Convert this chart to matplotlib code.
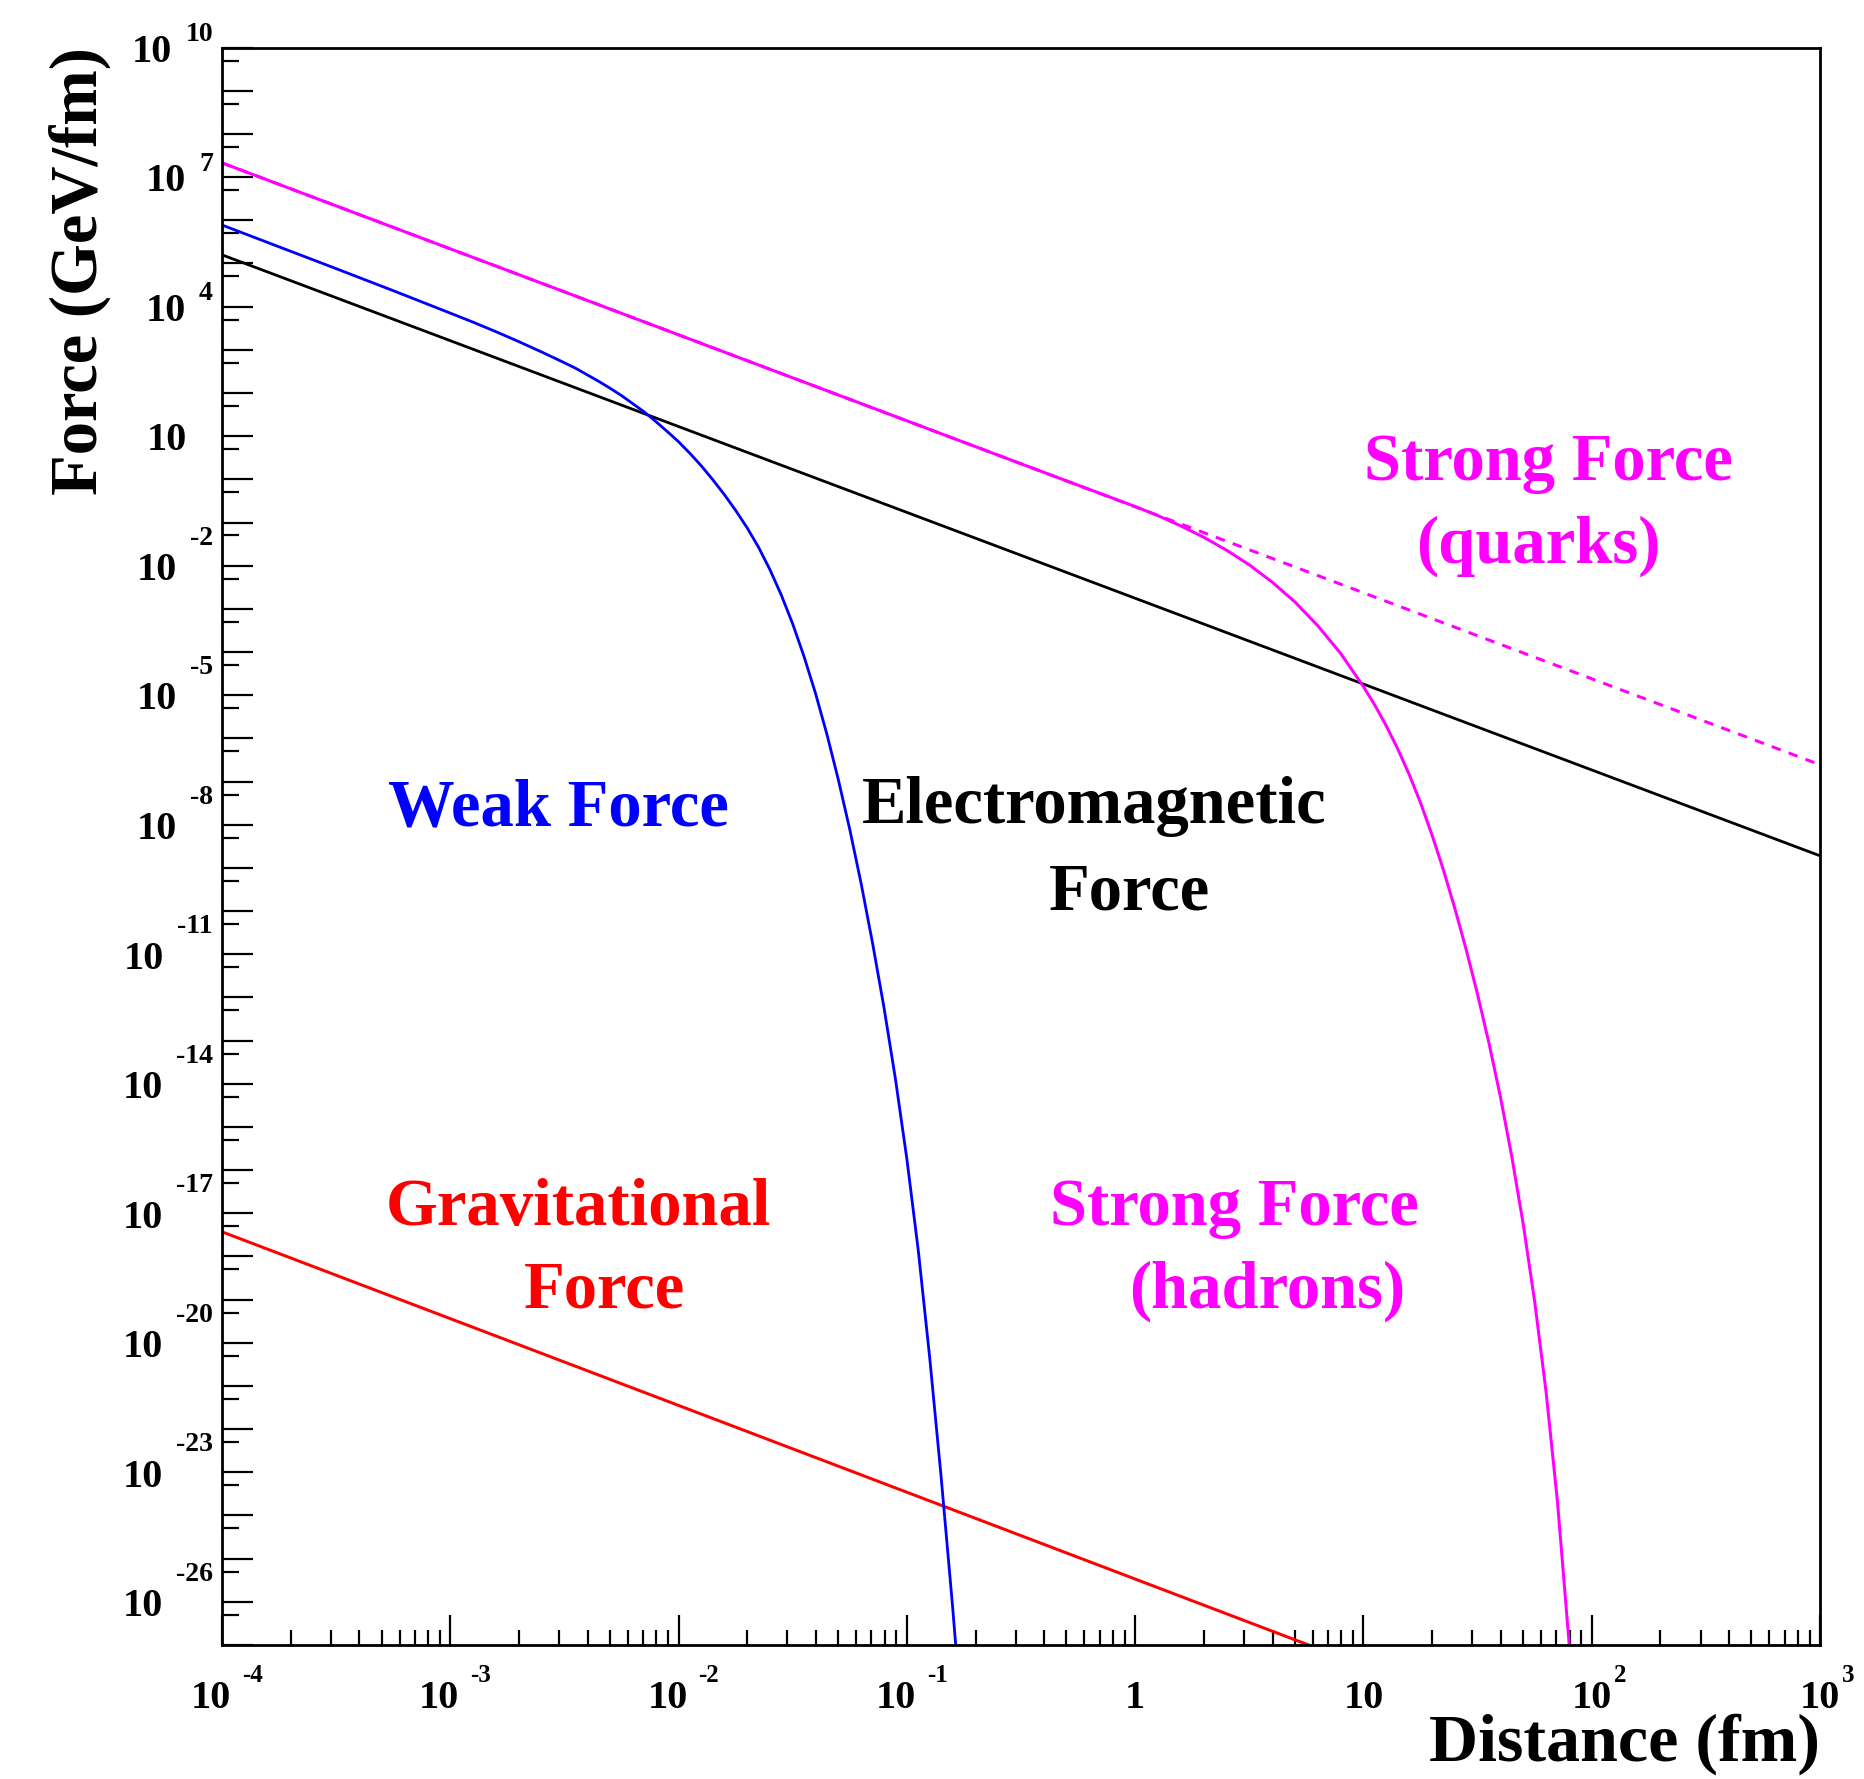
import numpy as np
import matplotlib
matplotlib.use("Agg")
import matplotlib.pyplot as plt
from matplotlib.ticker import FixedLocator, NullFormatter

plt.rcParams['font.family'] = ['Liberation Serif', 'DejaVu Serif']
plt.rcParams['font.weight'] = 'bold'

# values, as log10(distance / fm) and log10(force / GeV/fm)
em_log_r = [-4.0, 3.0]
em_log_f = [5.2, -8.72]

grav_log_r = [-4.0, 0.76]
grav_log_f = [-17.43, -27.0]

quark_log_r = [-4.0, 3.0]
quark_log_f = [7.33, -6.61]

weak_log_r = [-4.0, -3.5, -3.25, -3.0, -2.9, -2.8, -2.7, -2.6, -2.5, -2.45, -2.4,
              -2.35, -2.3, -2.25, -2.2, -2.15, -2.1, -2.05, -2.0, -1.95, -1.9,
              -1.85, -1.8, -1.75, -1.7, -1.65, -1.6, -1.55, -1.5, -1.45, -1.4,
              -1.35, -1.3, -1.25, -1.2, -1.15, -1.1, -1.05, -1.0, -0.95, -0.9,
              -0.85, -0.8, -0.786]
weak_log_f = [5.89, 4.88, 4.37, 3.85, 3.64, 3.42, 3.19, 2.95, 2.70, 2.57, 2.42,
              2.27, 2.11, 1.94, 1.75, 1.56, 1.34, 1.11, 0.87, 0.60, 0.31,
              -0.01, -0.35, -0.72, -1.12, -1.57, -2.09, -2.68, -3.35, -4.11, -4.96,
              -5.91, -6.96, -8.11, -9.37, -10.75, -12.24, -13.89, -15.74, -17.86, -20.34,
              -23.10, -26.09, -27.0]

hadron_log_r = [-4.0, -0.5, 0.0, 0.1, 0.2, 0.3, 0.4, 0.5, 0.6, 0.7, 0.8, 0.9, 1.0,
                1.05, 1.1, 1.15, 1.2, 1.25, 1.3, 1.35, 1.4, 1.45, 1.5, 1.55, 1.6,
                1.65, 1.7, 1.75, 1.8, 1.85, 1.9, 1.901]
hadron_log_f = [7.33, 0.36, -0.63, -0.84, -1.08, -1.34, -1.64, -1.98, -2.38, -2.84,
                -3.39, -4.03, -4.80, -5.23, -5.71, -6.24, -6.83, -7.49, -8.23, -9.04,
                -9.93, -10.89, -11.93, -13.06, -14.30, -15.69, -17.25, -19.04, -21.13,
                -23.68, -26.90, -27.0]

# tick labels: (mantissa, exponent)
x_tick_exp = [-4, -3, -2, -1, 0, 1, 2, 3]
x_tick_text = [("10", "-4"), ("10", "-3"), ("10", "-2"), ("10", "-1"),
               ("1", ""), ("10", ""), ("10", "2"), ("10", "3")]
y_tick_exp = [10, 7, 4, 1, -2, -5, -8, -11, -14, -17, -20, -23, -26]
y_tick_text = [("10", "10"), ("10", "7"), ("10", "4"), ("10", ""), ("10", "-2"),
               ("10", "-5"), ("10", "-8"), ("10", "-11"), ("10", "-14"), ("10", "-17"),
               ("10", "-20"), ("10", "-23"), ("10", "-26")]

W, H, DPI = 1865, 1779, 100
L, R, T, B = 222, 1820, 47.6, 1645


def pt(p):
    # pixels -> points
    return p * 72.0 / DPI


def fxy(x, y):
    # pixel position -> figure fraction
    return x / W, 1 - y / H


fig = plt.figure(figsize=(W / DPI, H / DPI), dpi=DPI)
ax = fig.add_axes([L / W, 1 - B / H, (R - L) / W, (B - T) / H])
ax.set_xscale('log')
ax.set_yscale('log')

ax.plot(np.power(10.0, em_log_r), np.power(10.0, em_log_f), color='black', lw=pt(2.8))
ax.plot(np.power(10.0, grav_log_r), np.power(10.0, grav_log_f), color='#ff0000', lw=pt(3.0))
ax.plot(np.power(10.0, weak_log_r), np.power(10.0, weak_log_f), color='#0000ff', lw=pt(2.8))
ax.plot(np.power(10.0, quark_log_r), np.power(10.0, quark_log_f), color='#ff00ff',
        lw=pt(3.0), linestyle=(0, (3.2, 2.8)))
ax.plot(np.power(10.0, hadron_log_r), np.power(10.0, hadron_log_f), color='#ff00ff', lw=pt(3.0))

ax.set_xlim(1e-4, 1e3)
ax.set_ylim(1e-27, 1e10)

# ROOT-like ticks, inside, bottom/left only
ax.xaxis.set_major_locator(FixedLocator(10.0 ** np.arange(-4, 4)))
ax.xaxis.set_minor_locator(FixedLocator([m * 10.0 ** d for d in range(-4, 3) for m in range(2, 10)]))
ax.yaxis.set_major_locator(FixedLocator(10.0 ** np.arange(-27, 11)))
ax.yaxis.set_minor_locator(FixedLocator([5 * 10.0 ** d for d in range(-28, 10)]))
for a in (ax.xaxis, ax.yaxis):
    a.set_major_formatter(NullFormatter())
    a.set_minor_formatter(NullFormatter())
ax.tick_params(which='both', direction='in', top=False, right=False, width=pt(2.2), color='black')
ax.tick_params(axis='x', which='major', length=pt(30))
ax.tick_params(axis='x', which='minor', length=pt(15))
ax.tick_params(axis='y', which='major', length=pt(31))
ax.tick_params(axis='y', which='minor', length=pt(17))
for s in ax.spines.values():
    s.set_linewidth(pt(2.8))

# x tick labels
for e, (base, ex) in zip(x_tick_exp, x_tick_text):
    neg = ex.startswith('-')
    ax.annotate(base, xy=(10.0 ** e, 0), xycoords=('data', 'axes fraction'),
                xytext=(pt(-11 if neg else 0), pt(-63)), textcoords='offset points',
                ha='center', va='baseline', fontsize=29)
    if ex:
        ax.annotate(ex, xy=(10.0 ** e, 0), xycoords=('data', 'axes fraction'),
                    xytext=(pt(20 if neg else 22), pt(-37)), textcoords='offset points',
                    ha='left', va='baseline', fontsize=18)

# y tick labels
renderer = fig.canvas.get_renderer()
for e, (base, ex) in zip(y_tick_exp, y_tick_text):
    if ex:
        neg = ex.startswith('-')
        t = ax.annotate(ex, xy=(0, 10.0 ** e), xycoords=('axes fraction', 'data'),
                        xytext=(pt(-9), pt(21 if neg else 6.5)), textcoords='offset points',
                        ha='right', va='baseline', fontsize=20)
        w = t.get_window_extent(renderer).width
        x10 = -9 - w - 13
    else:
        x10 = -35
    ax.annotate(base, xy=(0, 10.0 ** e), xycoords=('axes fraction', 'data'),
                xytext=(pt(x10), pt(-14.3)), textcoords='offset points',
                ha='right', va='baseline', fontsize=29)

# axis titles
fig.text(*fxy(80, T), "Force (GeV/fm)", rotation=90, ha='center', va='top', fontsize=48)
fig.text(*fxy(R, 1761), "Distance (fm)", ha='right', va='baseline', fontsize=49)

# curve names
fs = 48
fig.text(*fxy(558, 825), "Weak Force", color='#0000ff', ha='center', va='baseline', fontsize=fs)
fig.text(*fxy(1094, 823), "Electromagnetic", color='black', ha='center', va='baseline', fontsize=fs)
fig.text(*fxy(1129, 910), "Force", color='black', ha='center', va='baseline', fontsize=fs)
fig.text(*fxy(578, 1225), "Gravitational", color='#ff0000', ha='center', va='baseline', fontsize=fs)
fig.text(*fxy(604, 1308), "Force", color='#ff0000', ha='center', va='baseline', fontsize=fs)
fig.text(*fxy(1234, 1225), "Strong Force", color='#ff00ff', ha='center', va='baseline', fontsize=fs)
fig.text(*fxy(1267, 1308), "(hadrons)", color='#ff00ff', ha='center', va='baseline', fontsize=fs)
fig.text(*fxy(1548, 480), "Strong Force", color='#ff00ff', ha='center', va='baseline', fontsize=fs)
fig.text(*fxy(1538, 563), "(quarks)", color='#ff00ff', ha='center', va='baseline', fontsize=fs)

fig.savefig("out.png", dpi=DPI)
